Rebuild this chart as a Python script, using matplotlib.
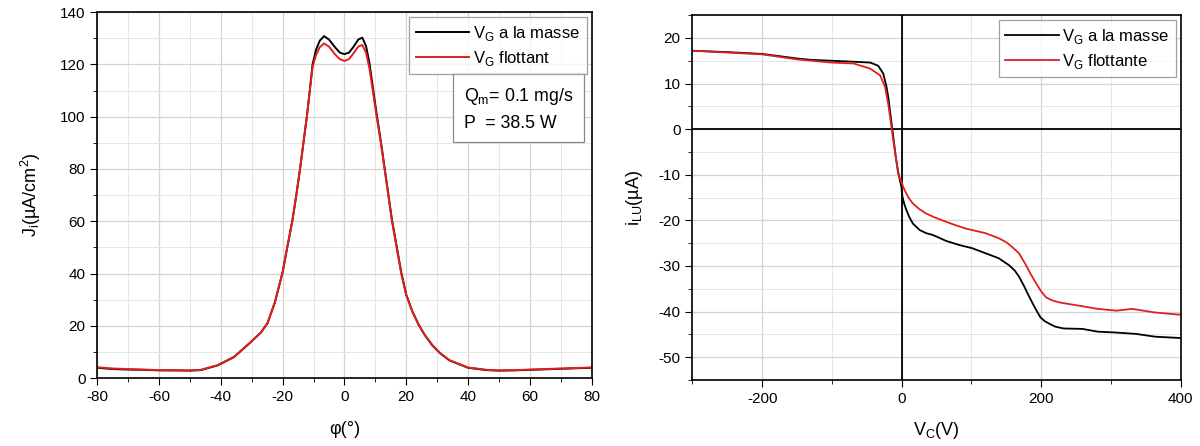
import matplotlib
matplotlib.use("Agg")
import matplotlib.pyplot as plt
from matplotlib.ticker import MultipleLocator

plt.rcParams['font.family'] = ['Liberation Sans', 'DejaVu Sans']
plt.rcParams['axes.unicode_minus'] = False

# left panel: ion current density vs angle
phi = [-80, -75, -70, -65, -60, -55, -50, -46.5, -41, -35.7, -30.3, -27, -24.9, -22.5, -20,
       -18.5, -16.8, -15.5, -14.3, -13.2, -12.1, -11.2, -10.3, -9.2, -8, -6.6, -5, -3, -1.5, 0, 1.5, 3, 4.5, 5.8, 7,
       8.1, 9.3, 10.5, 11.8, 13, 14.2, 15.4, 16.9, 18.4, 20, 22, 24, 26, 28.5, 31, 34, 40, 46, 50, 55, 60,
       65, 70, 75, 80]
j_masse = [4.0, 3.5, 3.3, 3.2, 3.0, 3.0, 2.9, 3.1, 4.9, 8.1, 13.8, 17.5, 21.0, 29.0, 40.5,
           50.0, 60.5, 70.5, 80.5, 90.5, 100.5, 110.0, 120.0, 125.5, 129.0, 130.8, 129.5, 126.5, 124.5, 123.9, 124.5, 126.8, 129.5, 130.2, 127.0,
           120.5, 110.5, 100.5, 90.5, 80.5, 70.5, 60.5, 50.5, 40.5, 32.0, 25.5, 20.5, 16.5, 12.5, 9.5, 6.8, 4.0, 3.1, 2.9, 3.0, 3.2,
           3.4, 3.6, 3.8, 4.0]
j_flot = [4.2, 3.7, 3.5, 3.3, 3.1, 3.0, 3.0, 3.2, 5.0, 8.2, 13.8, 17.5, 21.0, 29.0, 40.5,
          50.0, 60.5, 70.5, 80.5, 90.5, 100.5, 110.0, 119.0, 123.5, 126.5, 128.0, 126.8, 123.8, 122.0, 121.3, 122.0, 124.3, 126.8, 127.4, 124.5,
          118.5, 109.0, 99.5, 90.0, 80.0, 70.0, 60.0, 50.0, 40.0, 31.8, 25.5, 20.5, 16.6, 12.6, 9.6, 6.9, 4.1, 3.2, 3.0, 3.1, 3.3,
          3.5, 3.7, 3.9, 4.1]

# right panel: current vs collector voltage
vc_m = [-300, -250, -200, -150, -130, -100, -70, -45, -33.6, -26.5, -21.8, -19, -17, -15, -13.3, -11, -8.5,
        -6, -3.8, -2, -0.5, 1, 3.5, 6.6, 11, 16, 25.6, 35, 44.5, 55, 63.5, 82.5, 101, 120, 139, 153.6, 162, 168,
        175, 182, 188, 194, 199, 205, 212, 220, 232, 259, 281, 308, 336, 363, 400]
i_m = [17.2, 16.9, 16.5, 15.5, 15.2, 15.0, 14.8, 14.6, 13.9, 12.2, 9.3, 6.8, 4.2, 1.8, -0.2, -3.0, -6.1,
       -8.5, -10.4, -11.6, -12.6, -14.8, -16.3, -17.7, -19.3, -20.7, -22.1, -22.8, -23.2, -23.9, -24.5, -25.4, -26.1, -27.2, -28.3, -29.8, -31.0, -32.3,
       -34.3, -36.5, -38.3, -40.0, -41.3, -42.1, -42.7, -43.3, -43.7, -43.8, -44.4, -44.6, -44.9, -45.5, -45.8]

vc_f = [-300, -250, -200, -150, -100, -69, -45.5, -31, -24, -19.4, -17, -14.7, -12.5, -10, -7.5,
        -5.2, -2.5, -0.5, 2.5, 6.6, 11, 16, 25, 35, 48, 63.5, 78, 92, 120, 139, 150, 158, 168, 177,
        185, 193, 200, 207, 215, 226, 254, 281, 308, 330, 363, 400]
i_f = [17.2, 16.8, 16.4, 15.3, 14.6, 14.4, 13.3, 11.8, 9.3, 5.6, 3.0, 0.5, -2.0, -4.6, -7.2,
       -9.7, -10.8, -11.5, -12.8, -14.1, -15.3, -16.3, -17.5, -18.5, -19.4, -20.3, -21.1, -21.8, -22.8, -23.9, -24.8, -25.8, -27.2, -29.5,
       -31.8, -33.9, -35.6, -36.9, -37.5, -38.0, -38.7, -39.4, -39.8, -39.4, -40.2, -40.7]

fig = plt.figure(figsize=(12, 4.46), dpi=100)
ax1 = fig.add_axes([0.081, 0.152, 0.412, 0.821])
ax2 = fig.add_axes([0.577, 0.148, 0.407, 0.818])

grid_major = dict(color='#d4d4d4', linewidth=0.9)
grid_minor = dict(color='#e6e6e6', linewidth=0.7)

for ax in (ax1, ax2):
    ax.grid(True, which='major', **grid_major)
    ax.grid(True, which='minor', **grid_minor)
    ax.set_axisbelow(True)
    ax.tick_params(which='both', direction='out', labelsize=11, top=False, right=False)
    ax.tick_params(which='major', length=5)
    ax.tick_params(which='minor', length=3)
    for s in ax.spines.values():
        s.set_linewidth(1.2)

# left
ax1.plot(phi, j_masse, color='black', lw=1.4, label=r'V$_\mathregular{G}$ a la masse')
ax1.plot(phi, j_flot, color='#e02020', lw=1.4, label=r'V$_\mathregular{G}$ flottant')
ax1.set_xlim(-80, 80)
ax1.set_ylim(0, 140)
ax1.xaxis.set_major_locator(MultipleLocator(20))
ax1.xaxis.set_minor_locator(MultipleLocator(10))
ax1.yaxis.set_major_locator(MultipleLocator(20))
ax1.yaxis.set_minor_locator(MultipleLocator(10))
ax1.set_xlabel('φ(°)', fontsize=13, labelpad=12)
ax1.set_ylabel(r'J$_\mathregular{i}$(µA/cm$^\mathregular{2}$)', fontsize=13, labelpad=12)
leg1 = ax1.legend(loc='upper right', fontsize=12, fancybox=False, edgecolor='#888888',
                  borderaxespad=0.3, handlelength=3.2, handletextpad=0.2, labelspacing=0.35)
leg1.get_frame().set_linewidth(0.9)
ax1.text(0.741, 0.799, 'Q$_\\mathregular{m}$= 0.1 mg/s\nP  = 38.5 W', transform=ax1.transAxes,
         ha='left', va='top', fontsize=12.8, linespacing=1.62,
         bbox=dict(boxstyle='square,pad=0.6', facecolor='white', edgecolor='#888888', linewidth=0.9))

# right
ax2.plot(vc_m, i_m, color='black', lw=1.3, label=r'V$_\mathregular{G}$ a la masse')
ax2.plot(vc_f, i_f, color='#e02020', lw=1.3, label=r'V$_\mathregular{G}$ flottante')
ax2.axhline(0, color='black', lw=1.3, zorder=1.5)
ax2.axvline(0, color='black', lw=1.3, zorder=1.5)
ax2.set_xlim(-300, 400)
ax2.set_ylim(-55, 25)
ax2.xaxis.set_major_locator(MultipleLocator(200))
ax2.xaxis.set_minor_locator(MultipleLocator(100))
ax2.yaxis.set_major_locator(MultipleLocator(10))
ax2.yaxis.set_minor_locator(MultipleLocator(5))
ax2.set_xlabel(r'V$_\mathregular{C}$(V)', fontsize=13, labelpad=10)
ax2.set_ylabel(r'i$_\mathregular{LU}$(µA)', fontsize=13, labelpad=10)
leg2 = ax2.legend(loc='upper right', fontsize=12, fancybox=False, edgecolor='#888888',
                  borderaxespad=0.3, handlelength=3.2, handletextpad=0.2, labelspacing=0.35)
leg2.get_frame().set_linewidth(0.9)

fig.savefig('out.png', dpi=100)
